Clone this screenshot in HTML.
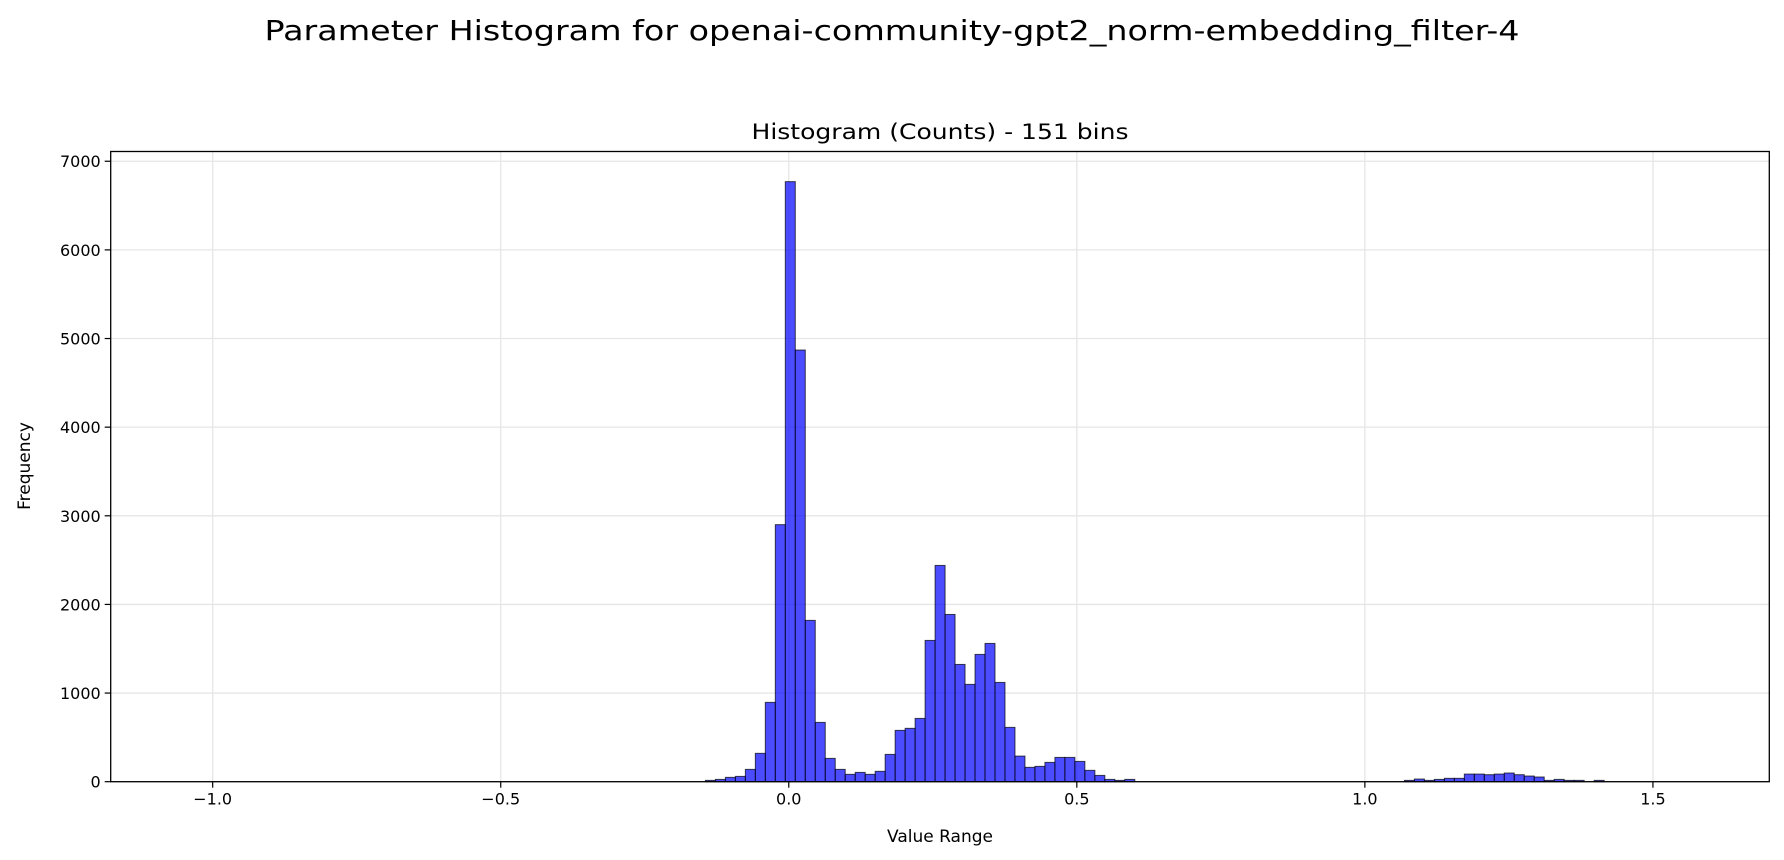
<!DOCTYPE html>
<html><head><meta charset="utf-8"><style>
html,body{margin:0;padding:0;background:#fff;}
svg{display:block;font-family:"DejaVu Sans","Liberation Sans",sans-serif;}
</style></head><body>
<svg id="chart" width="1784" height="860" viewBox="0 0 1784 860" xmlns="http://www.w3.org/2000/svg">
<rect width="1784" height="860" fill="#fff"/>
<text x="892" y="40" text-anchor="middle" font-size="28" fill="#000" textLength="1255" lengthAdjust="spacingAndGlyphs">Parameter Histogram for openai-community-gpt2_norm-embedding_filter-4</text>
<text x="940" y="139" text-anchor="middle" font-size="21" fill="#000" textLength="377" lengthAdjust="spacingAndGlyphs">Histogram (Counts) - 151 bins</text>
<g id="grid"></g>
<g id="bars"></g>
<rect x="110.7" y="151.5" width="1658.6" height="630.2" fill="none" stroke="#000" stroke-width="1.3"/>
<g id="xticks"></g>
<g id="yticks"></g>
<text x="940" y="842" text-anchor="middle" font-size="17" fill="#000">Value Range</text>
<text transform="translate(30,466) rotate(-90)" text-anchor="middle" font-size="17" fill="#000">Frequency</text>
</svg>
<script>
const binStart = -1.046;
const binWidth = 0.017333;
const binCount = 151;
const centerCounts = [15,26,49,60,139,320,895,2900,6770,4870,1820,669,263,139,83,105,83,117,308,579,602,714,1594,2440,1887,1323,1098,1436,1560,1120,613,289,162,173,218,274,274,229,128,71,26,15,26];
const centerStartBin = 52;
const tailCounts = [15,30,15,26,38,38,86,86,79,86,98,79,64,53,15,26,15,15,0,15];
const tailStartBin = 122;
const xTickValues = [-1.0,-0.5,0.0,0.5,1.0,1.5];
const xTickLabels = ["\u22121.0","\u22120.5","0.0","0.5","1.0","1.5"];
const yTickValues = [0,1000,2000,3000,4000,5000,6000,7000];
const yTickLabels = ["0","1000","2000","3000","4000","5000","6000","7000"];

const counts = new Array(binCount).fill(0);
centerCounts.forEach((c,i)=>{counts[centerStartBin+i]=c;});
tailCounts.forEach((c,i)=>{counts[tailStartBin+i]=c;});

const X0=110.7, X1=1769.3, Y0=781.7, Y1=151.5;
const xmin=-1.177, xmax=1.702;
const ymin=0, ymax=7110;
const xs=v=>X0+(v-xmin)/(xmax-xmin)*(X1-X0);
const ys=v=>Y0-(v-ymin)/(ymax-ymin)*(Y0-Y1);
const NS="http://www.w3.org/2000/svg";
function mk(tag,attrs,parent){const e=document.createElementNS(NS,tag);for(const k in attrs)e.setAttribute(k,attrs[k]);parent.appendChild(e);return e;}

const grid=document.getElementById('grid');
xTickValues.forEach(v=>{
  const l=mk('line',{x1:xs(v),x2:xs(v),y1:Y1,y2:Y0,stroke:'#e6e6e6','stroke-width':1.3},grid);
  
  
});
yTickValues.forEach(v=>{
  const l=mk('line',{x1:X0,x2:X1,y1:ys(v),y2:ys(v),stroke:'#e6e6e6','stroke-width':1.3},grid);
  
  
});

const bars=document.getElementById('bars');
counts.forEach((c,i)=>{
  if(c<=0)return;
  const a=binStart+i*binWidth, b=a+binWidth;
  const r=mk('rect',{x:xs(a),y:ys(c),width:xs(b)-xs(a),height:ys(0)-ys(c),fill:'rgba(0,0,255,0.7)',stroke:'rgba(0,0,0,0.7)','stroke-width':1},bars);
  
  
});

const xt=document.getElementById('xticks');
xTickValues.forEach((v,i)=>{
  const t=mk('line',{x1:xs(v),x2:xs(v),y1:Y0,y2:Y0+6,stroke:'#000','stroke-width':1.2},xt);
  
  
  const tx=mk('text',{x:xs(v),y:Y0+23,'text-anchor':'middle','font-size':16,fill:'#000'},xt);
  tx.textContent=xTickLabels[i];
  
  
});
const yt=document.getElementById('yticks');
yTickValues.forEach((v,i)=>{
  const t=mk('line',{x1:X0-6,x2:X0,y1:ys(v),y2:ys(v),stroke:'#000','stroke-width':1.2},yt);
  
  
  const tx=mk('text',{x:X0-10,y:ys(v)+6,'text-anchor':'end','font-size':16,fill:'#000'},yt);
  tx.textContent=yTickLabels[i];
  
  
});
</script>
</body></html>
